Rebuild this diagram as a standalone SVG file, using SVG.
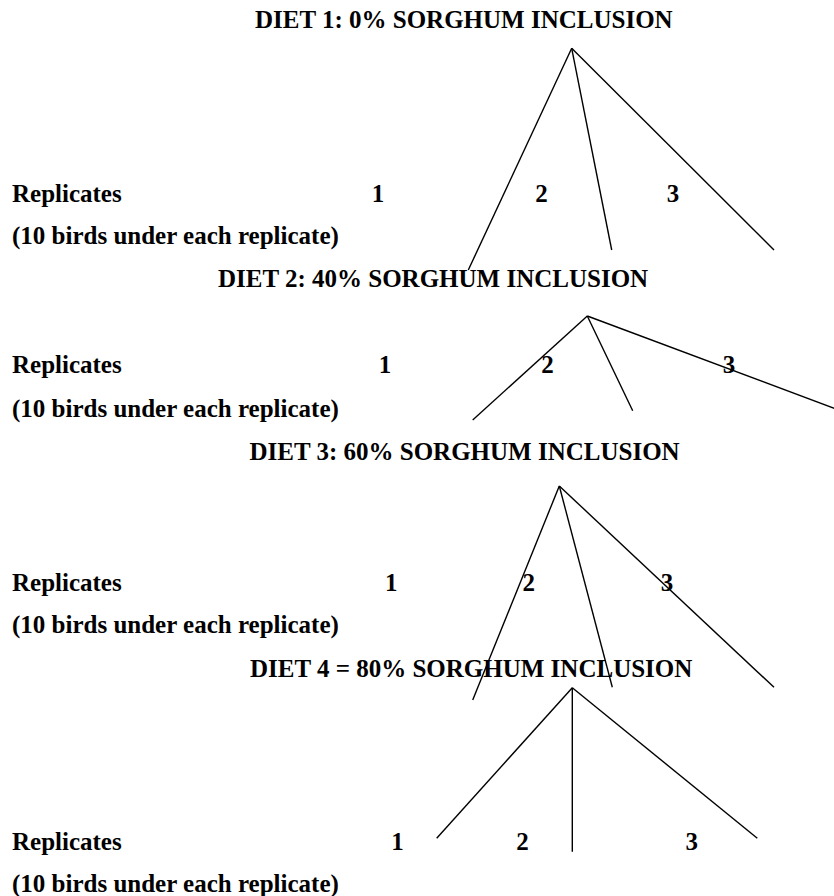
<svg xmlns="http://www.w3.org/2000/svg" width="834" height="896" viewBox="0 0 834 896">
<style>
text{font-family:"Liberation Serif","Times New Roman",serif;font-weight:bold;font-size:25px;fill:#000}
.n{text-anchor:middle}
line{stroke:#000;stroke-width:1.4;fill:none}
</style>
<rect width="834" height="896" fill="#fff"/>
<g id="diet1">
<text x="255" y="28">DIET 1: 0% SORGHUM INCLUSION</text>
</g>
<g id="diet1-rows">
<text x="12" y="201.7">Replicates</text>
<text class="n" x="378" y="201.7">1</text>
<text class="n" x="541.5" y="201.7">2</text>
<text class="n" x="673" y="201.7">3</text>
<text x="12" y="244">(10 birds under each replicate)</text>
</g>
<g id="diet2">
<text x="218" y="287">DIET 2: 40% SORGHUM INCLUSION</text>
</g>
<g id="diet2-rows">
<text x="12" y="373.3">Replicates</text>
<text class="n" x="385" y="373.3">1</text>
<text class="n" x="547.5" y="373.3">2</text>
<text class="n" x="729" y="373.3">3</text>
<text x="12" y="416.7">(10 birds under each replicate)</text>
</g>
<g id="diet3">
<text x="249.5" y="460">DIET 3: 60% SORGHUM INCLUSION</text>
</g>
<g id="diet3-rows">
<text x="12" y="590.7">Replicates</text>
<text class="n" x="391.3" y="590.7">1</text>
<text class="n" x="528.8" y="590.7">2</text>
<text class="n" x="667" y="590.7">3</text>
<text x="12" y="633">(10 birds under each replicate)</text>
</g>
<g id="diet4">
<text x="250" y="676.7">DIET 4 = 80% SORGHUM INCLUSION</text>
</g>
<g id="diet4-rows">
<text x="12" y="850">Replicates</text>
<text class="n" x="397.5" y="850">1</text>
<text class="n" x="522.5" y="850">2</text>
<text class="n" x="691.7" y="850">3</text>
<text x="12" y="891.7">(10 birds under each replicate)</text>
</g>
<g id="connectors">
<line x1="571.7" y1="48.3" x2="468.3" y2="270"/>
<line x1="571.7" y1="48.3" x2="611.7" y2="250"/>
<line x1="571.7" y1="48.3" x2="774" y2="250"/>
<line x1="587.3" y1="316" x2="472.7" y2="420"/>
<line x1="587.3" y1="316" x2="632.7" y2="410.7"/>
<line x1="587.3" y1="316" x2="836" y2="409"/>
<line x1="559.3" y1="486" x2="472.7" y2="700"/>
<line x1="559.3" y1="486" x2="612.3" y2="687.3"/>
<line x1="559.3" y1="486" x2="774" y2="687.3"/>
<line x1="572.3" y1="687.7" x2="436.7" y2="838.3"/>
<line x1="572.3" y1="687.7" x2="572.3" y2="851.7"/>
<line x1="572.3" y1="687.7" x2="757.3" y2="838.3"/>
</g>
</svg>
